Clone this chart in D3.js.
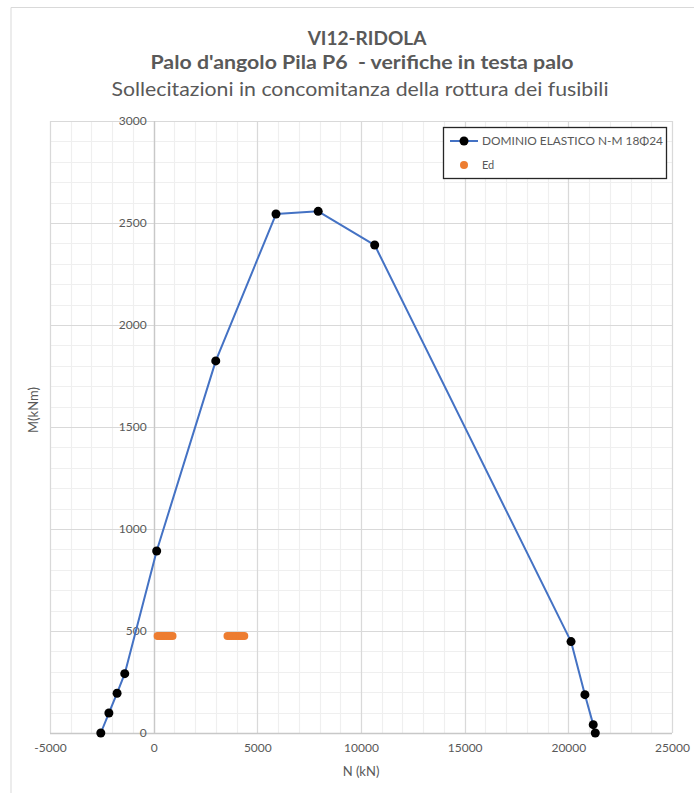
<!DOCTYPE html>
<html>
<head>
<meta charset="utf-8">
<script src="https://cdn.jsdelivr.net/npm/d3@7"></script>
<style>
  html, body { margin: 0; padding: 0; background: #fff; }
  svg { display: block; }
  text { font-family: Lato, "Open Sans", "Liberation Sans", sans-serif; fill: #595959; white-space: pre; }
</style>
</head>
<body>
<svg id="chart" width="694" height="793"></svg>
<script>
// Elastic N-M interaction domain (18Φ24)
const dominioN = [-2550, -2160, -1765, -1395, 145, 2995, 5900, 7935, 10660, 20130, 20800, 21200, 21300];
const dominioM = [0, 98, 195, 291, 892, 1824, 2544, 2557, 2392, 448, 188, 41, 0];

// Design actions Ed at fuse rupture
const edN = [190, 270, 360, 450, 540, 630, 720, 810, 910, 3560, 3660, 3760, 3870, 3970, 4080, 4180, 4280, 4370];
const edM = [475, 475, 475, 475, 475, 475, 475, 475, 475, 475, 475, 475, 475, 475, 475, 475, 475, 475];

const xTicks = [-5000, 0, 5000, 10000, 15000, 20000, 25000];
const yTicks = [0, 500, 1000, 1500, 2000, 2500, 3000];

const titleLines = ["VI12-RIDOLA", "Palo d'angolo Pila P6  - verifiche in testa palo", "Sollecitazioni in concomitanza della rottura dei fusibili"];
const seriesNames = ["DOMINIO ELASTICO N-M 18Φ24", "Ed"];

const svg = d3.select("#chart");
const plot = { left: 50, right: 672, top: 121, bottom: 733 };

const x = d3.scaleLinear().domain([-5000, 25000]).range([plot.left, plot.right]);
const y = d3.scaleLinear().domain([0, 3000]).range([plot.bottom, plot.top]);

// chart frame
svg.append("path")
  .attr("d", "M11,793 V7.5 H694")
  .attr("fill", "none").attr("stroke", "#d9d9d9").attr("stroke-width", 1);

// minor gridlines
const g = svg.append("g").attr("class", "grid");
g.selectAll("line.vminor").data(d3.range(-5000, 25001, 1000)).join("line")
  .attr("x1", d => Math.round(x(d)) + 0.5).attr("x2", d => Math.round(x(d)) + 0.5)
  .attr("y1", plot.top).attr("y2", plot.bottom)
  .attr("stroke", "#efefef").attr("stroke-width", 1.2);
g.selectAll("line.hminor").data(d3.range(0, 3001, 100)).join("line")
  .attr("y1", d => Math.round(y(d)) + 0.5).attr("y2", d => Math.round(y(d)) + 0.5)
  .attr("x1", plot.left).attr("x2", plot.right)
  .attr("stroke", "#efefef").attr("stroke-width", 1.2);
// major gridlines
g.selectAll("line.vmajor").data(xTicks).join("line")
  .attr("x1", d => Math.round(x(d)) + 0.5).attr("x2", d => Math.round(x(d)) + 0.5)
  .attr("y1", plot.top).attr("y2", plot.bottom)
  .attr("stroke", "#d9d9d9").attr("stroke-width", 1.2);
g.selectAll("line.hmajor").data(yTicks).join("line")
  .attr("y1", d => Math.round(y(d)) + 0.5).attr("y2", d => Math.round(y(d)) + 0.5)
  .attr("x1", plot.left).attr("x2", plot.right)
  .attr("stroke", "#d9d9d9").attr("stroke-width", 1.2);

// axis lines (crossing at N=0, M=0)
svg.append("line")
  .attr("x1", Math.round(x(0)) + 0.5).attr("x2", Math.round(x(0)) + 0.5)
  .attr("y1", plot.top).attr("y2", plot.bottom)
  .attr("stroke", "#c8c8c8").attr("stroke-width", 1.3);
svg.append("line")
  .attr("x1", plot.left).attr("x2", plot.right)
  .attr("y1", Math.round(y(0)) + 0.5).attr("y2", Math.round(y(0)) + 0.5)
  .attr("stroke", "#c8c8c8").attr("stroke-width", 1.3);

// x axis labels
const xAxis = d3.axisBottom(x).tickValues(xTicks).tickSize(0).tickPadding(10).tickFormat(d => String(d));
const xg = svg.append("g").attr("transform", `translate(0,${plot.bottom})`).call(xAxis);
xg.select(".domain").remove();
xg.selectAll("text").style("font-size", "12px").attr("fill", "#595959");

// y axis labels sit beside the N=0 axis
const yAxis = d3.axisLeft(y).tickValues(yTicks).tickSize(0).tickPadding(7).tickFormat(d => String(d));
const yg = svg.append("g").attr("transform", `translate(${x(0)},0)`).call(yAxis);
yg.select(".domain").remove();
yg.selectAll("text").style("font-size", "12px").attr("fill", "#595959");

// axis titles
svg.append("text").attr("x", 361).attr("y", 776).attr("text-anchor", "middle")
  .style("font-size", "13px").text("N (kN)");
svg.append("text").attr("transform", "translate(38,410) rotate(-90)").attr("text-anchor", "middle")
  .style("font-size", "13px").text("M(kNm)");

// titles
const tl = svg.append("g");
tl.append("text").attr("x", 367).attr("y", 45).attr("text-anchor", "middle")
  .style("font-size", "19px").style("font-weight", "bold").text(titleLines[0]);
tl.append("text").attr("x", 362).attr("y", 69).attr("text-anchor", "middle")
  .style("font-size", "19px").style("font-weight", "bold")
  .attr("textLength", 423).attr("lengthAdjust", "spacingAndGlyphs").text(titleLines[1]);
tl.append("text").attr("x", 360).attr("y", 96).attr("text-anchor", "middle")
  .style("font-size", "19px")
  .attr("textLength", 497).attr("lengthAdjust", "spacingAndGlyphs").text(titleLines[2]);

// domain line + markers
const dom = dominioN.map((n, i) => ({ n, m: dominioM[i] }));
svg.append("path").datum(dom)
  .attr("fill", "none").attr("stroke", "#4472C4").attr("stroke-width", 2)
  .attr("stroke-linejoin", "round")
  .attr("d", d3.line().x(d => x(d.n)).y(d => y(d.m)));
svg.append("g").selectAll("circle").data(dom).join("circle")
  .attr("cx", d => x(d.n)).attr("cy", d => y(d.m)).attr("r", 4.5).attr("fill", "#000");

// Ed points
const ed = edN.map((n, i) => ({ n, m: edM[i] }));
svg.append("g").selectAll("circle").data(ed).join("circle")
  .attr("cx", d => x(d.n)).attr("cy", d => y(d.m)).attr("r", 4).attr("fill", "#ED7D31");

// legend
const lg = svg.append("g");
lg.append("rect").attr("x", 443.5).attr("y", 127.5).attr("width", 223).attr("height", 51)
  .attr("fill", "#fff").attr("stroke", "#262626").attr("stroke-width", 1.3);
lg.append("line").attr("x1", 450).attr("x2", 478).attr("y1", 141).attr("y2", 141)
  .attr("stroke", "#4472C4").attr("stroke-width", 2);
lg.append("circle").attr("cx", 464).attr("cy", 141).attr("r", 4.5).attr("fill", "#000");
lg.append("text").attr("x", 482).attr("y", 145).style("font-size", "11px")
  .attr("textLength", 181).attr("lengthAdjust", "spacingAndGlyphs").text(seriesNames[0]);
lg.append("circle").attr("cx", 464).attr("cy", 165).attr("r", 4).attr("fill", "#ED7D31");
lg.append("text").attr("x", 482).attr("y", 169).style("font-size", "11px").text(seriesNames[1]);
</script>
</body>
</html>
